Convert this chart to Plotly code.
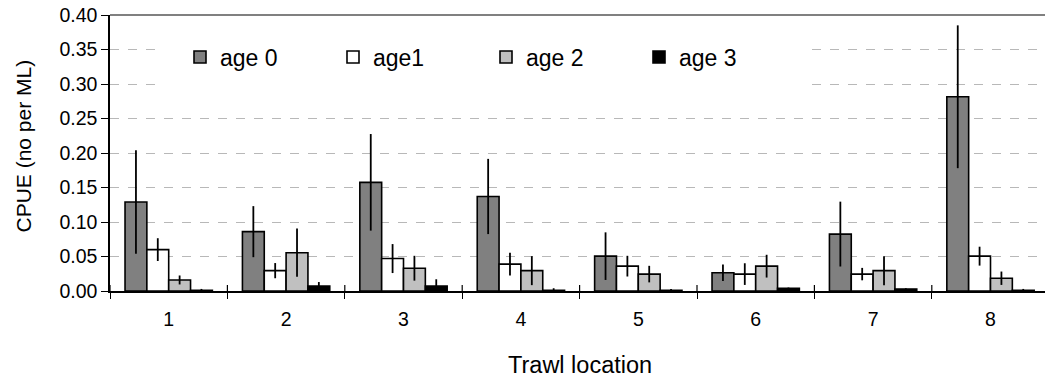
import plotly.graph_objects as go

# ---- data ----
locations = ["1", "2", "3", "4", "5", "6", "7", "8"]
series_names = ["age 0", "age1", "age 2", "age 3"]
age0 = [0.129, 0.086, 0.1575, 0.137, 0.0505, 0.0265, 0.0825, 0.2815]
age0_err = [0.075, 0.037, 0.070, 0.0545, 0.0345, 0.012, 0.047, 0.1035]
age1 = [0.060, 0.0295, 0.047, 0.039, 0.036, 0.0245, 0.0245, 0.0505]
age1_err = [0.0165, 0.011, 0.021, 0.0165, 0.015, 0.0157, 0.009, 0.0137]
age2 = [0.016, 0.0555, 0.033, 0.0295, 0.0245, 0.036, 0.0295, 0.0185]
age2_err = [0.0065, 0.035, 0.018, 0.021, 0.012, 0.0165, 0.021, 0.0097]
age3 = [0.001, 0.007, 0.007, 0.001, 0.001, 0.004, 0.003, 0.001]
age3_err = [0.002, 0.006, 0.010, 0.003, 0.002, 0.001, 0.001, 0.002]
y_ticks = [0.00, 0.05, 0.10, 0.15, 0.20, 0.25, 0.30, 0.35, 0.40]

values = [age0, age1, age2, age3]
errors = [age0_err, age1_err, age2_err, age3_err]
colors = ["#808080", "#ffffff", "#c0c0c0", "#000000"]

W, H = 1045, 381
ML, MR, MT, MB = 110, 0, 15, 90
PW = W - ML - MR
PH = H - MT - MB
CAT_PX = 117.4  # pixel width of one category

xpos = list(range(len(locations)))
xmin = -0.5
xmax = -0.5 + PW / CAT_PX
bounds = [i - 0.5 for i in range(len(locations) + 1)]

FONT = "Liberation Sans, Arial, sans-serif"
LEG_BORDER = 12

fig = go.Figure()
for name, vals, errs, col in zip(series_names, values, errors, colors):
    fig.add_trace(go.Bar(
        x=xpos, y=vals, name=name, showlegend=True,
        marker=dict(color=col, line=dict(color="#000000", width=1.6)),
        error_y=dict(type="data", array=errs, visible=True, width=0,
                     thickness=1.8, color="#000000"),
    ))

def px_x(p):
    return (p - ML) / PW

def px_y(p):
    return (H - MB - p) / PH

shapes = [
    # white legend panel hiding the gridlines
    dict(type="rect", xref="paper", yref="paper",
         x0=px_x(160), x1=px_x(760), y0=px_y(95), y1=px_y(36),
         fillcolor="white", line=dict(color="white", width=1), layer="above"),
    # grey top border
    dict(type="line", xref="paper", yref="paper", x0=0, x1=1, y0=1, y1=1,
         line=dict(color="#808080", width=2), layer="above"),
]
# upper half of the crossing category tick marks
for b in bounds:
    shapes.append(dict(type="line", xref="x", yref="paper", x0=b, x1=b,
                       y0=0, y1=6 / PH, line=dict(color="#000000", width=1.2),
                       layer="above"))

NBSP = "\u00a0"

fig.update_layout(
    width=W, height=H,
    margin=dict(l=ML, r=MR, t=MT, b=MB),
    paper_bgcolor="white", plot_bgcolor="white",
    font=dict(family=FONT, color="#000000", size=19.5),
    barmode="group", bargap=0.256, bargroupgap=0,
    showlegend=True,
    legend=dict(
        orientation="h", x=px_x(180 - LEG_BORDER), xanchor="left",
        y=px_y(57), yanchor="middle",
        bgcolor="white", bordercolor="white", borderwidth=LEG_BORDER,
        font=dict(size=23, family=FONT),
        entrywidth=108, entrywidthmode="pixels",
    ),
    xaxis=dict(
        range=[xmin, xmax], tickmode="array", tickvals=xpos, ticktext=locations,
        ticks="outside", ticklen=10, tickcolor="rgba(0,0,0,0)",
        showgrid=False, zeroline=False,
        showline=True, linecolor="#000000", linewidth=1.5,
        tickfont=dict(size=19.5, family=FONT),
        minor=dict(tickmode="array", tickvals=bounds, ticks="outside",
                   ticklen=6, tickwidth=1.2, tickcolor="#000000", showgrid=False),
    ),
    yaxis=dict(
        range=[0, 0.40], tickmode="array", tickvals=y_ticks, tickformat=".2f",
        ticksuffix=NBSP + NBSP,
        ticks="outside", ticklen=7, tickwidth=1.2, tickcolor="#000000",
        showline=True, linecolor="#000000", linewidth=1.5,
        showgrid=True, gridcolor="#b8b8b8", gridwidth=1, griddash="dash",
        zeroline=False, tickfont=dict(size=19.5, family=FONT),
    ),
    shapes=shapes,
    annotations=[
        dict(text="CPUE (no per ML)", xref="paper", yref="paper",
             x=px_x(23), y=px_y(146.5), textangle=-90, showarrow=False,
             xanchor="center", yanchor="middle",
             font=dict(size=21, family=FONT, color="#000000")),
        dict(text="Trawl location", xref="paper", yref="paper",
             x=px_x(579.5), y=px_y(365), showarrow=False,
             xanchor="center", yanchor="middle",
             font=dict(size=23.5, family=FONT, color="#000000")),
    ],
)

fig.write_html("out.html")
